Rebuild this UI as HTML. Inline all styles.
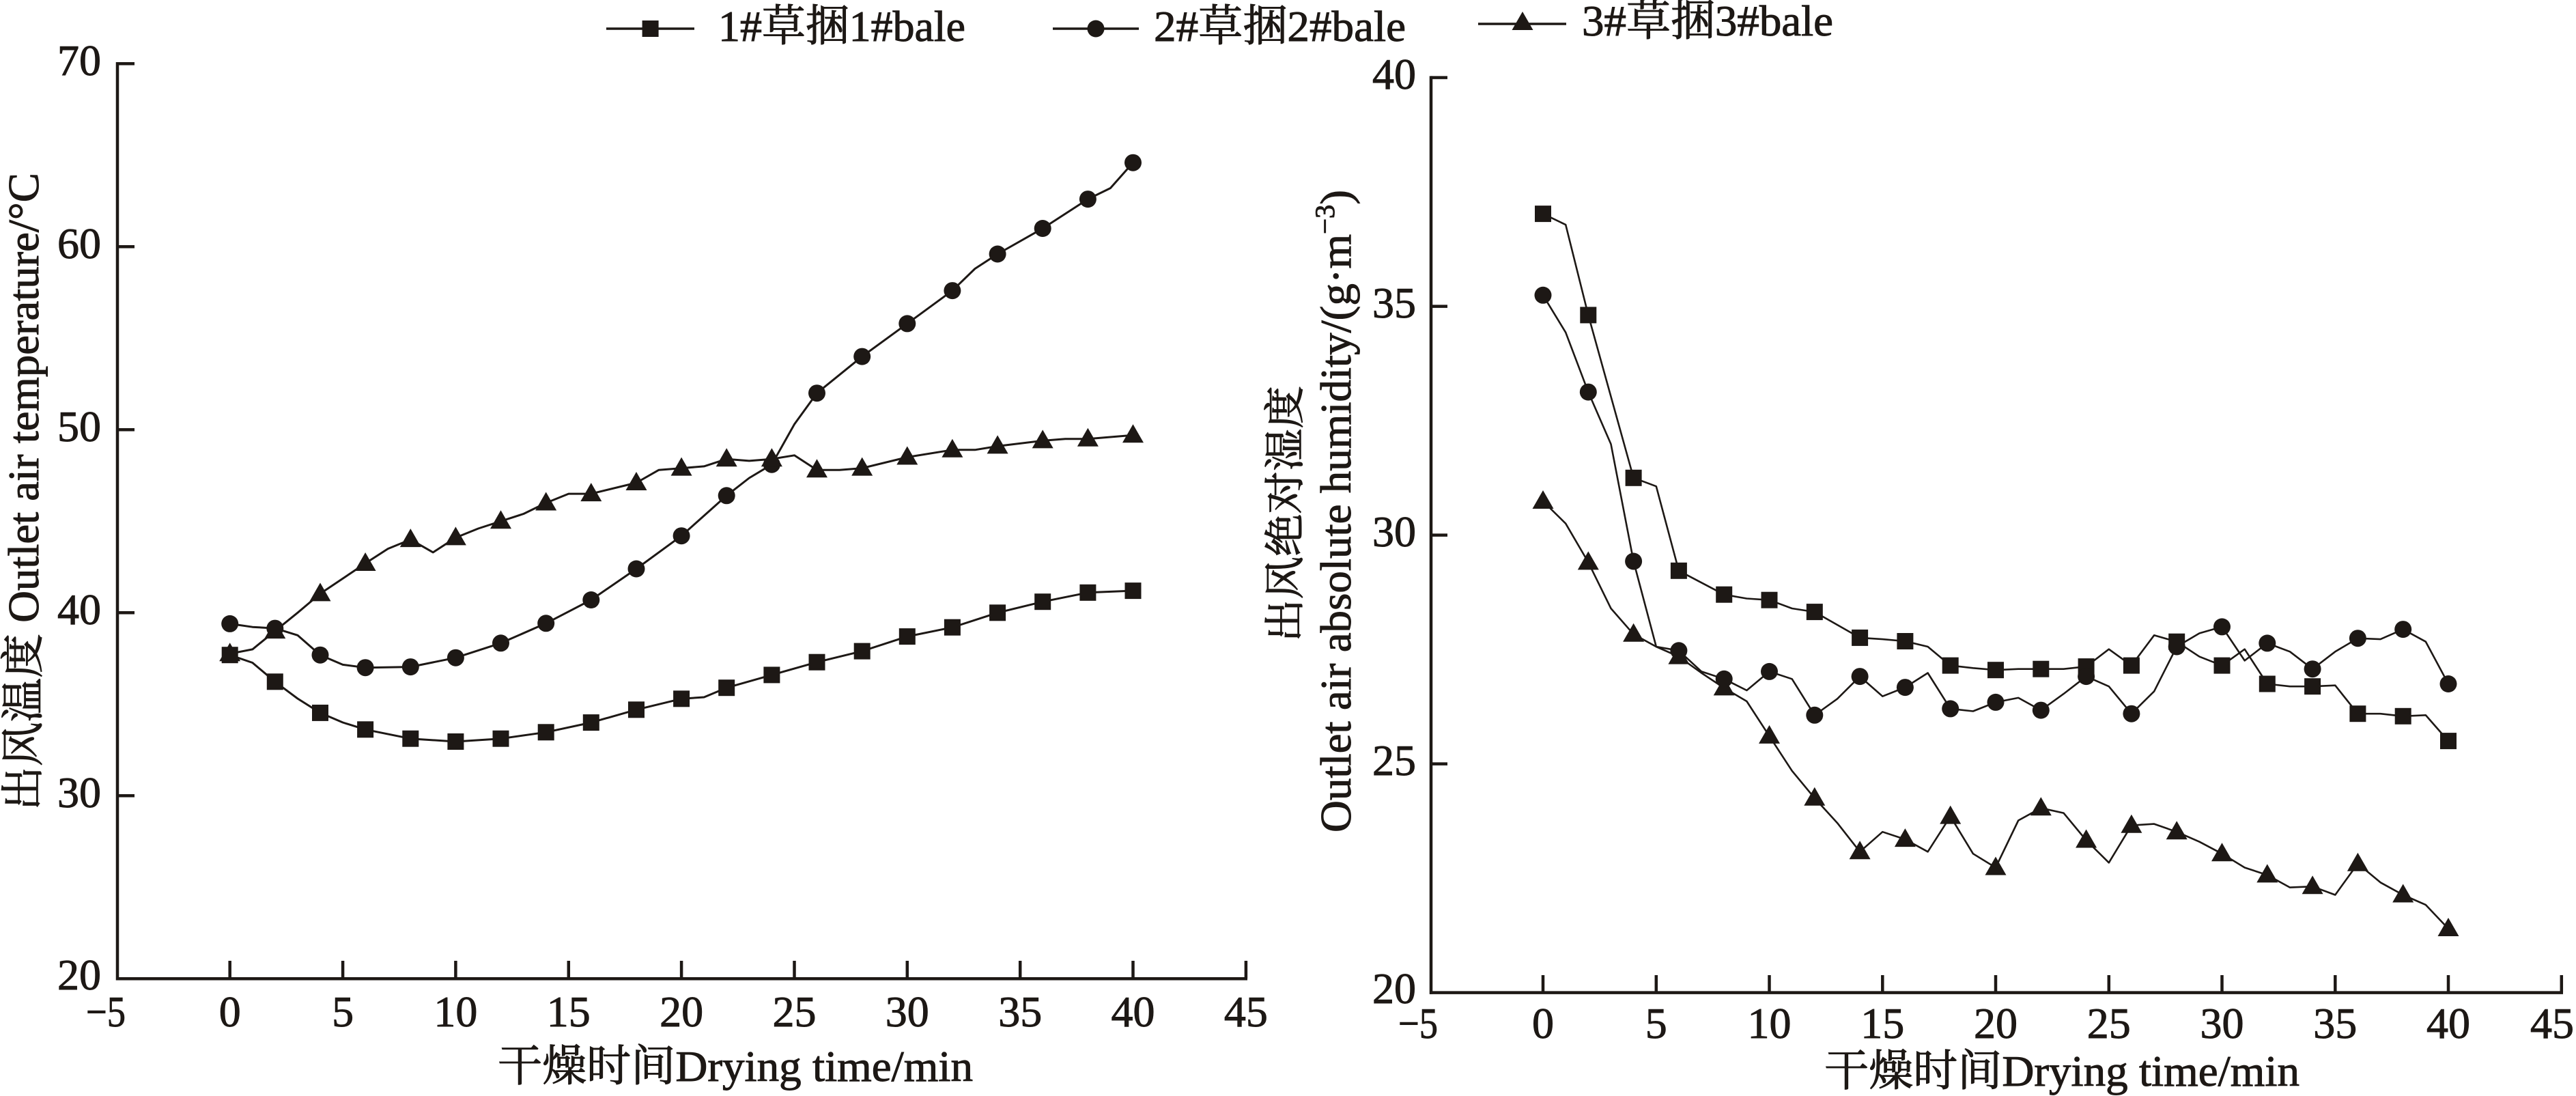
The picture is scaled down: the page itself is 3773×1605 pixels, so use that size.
<!DOCTYPE html>
<html>
<head>
<meta charset="utf-8">
<style>
  html, body { margin: 0; padding: 0; background: #ffffff; }
  svg { display: block; }
  text { font-family: "Liberation Serif", "Noto Serif CJK SC", serif; fill: #1d1815; stroke: #1d1815; stroke-width: 1; }
</style>
</head>
<body>
<svg width="3773" height="1605" viewBox="0 0 3773 1605" xmlns="http://www.w3.org/2000/svg">
<defs>
  <rect id="sq" x="-12" y="-12" width="24" height="24" fill="#1d1815"/>
  <circle id="ci" r="12.5" fill="#1d1815"/>
  <polygon id="tr" points="0,-16 -15.5,11 15.5,11" fill="#1d1815"/>
</defs>
<rect width="3773" height="1605" fill="#fff"/>

<!-- ===== Legend ===== -->
<g stroke="#1d1815" stroke-width="3.5">
  <line x1="888" y1="42" x2="1017" y2="42"/>
  <line x1="1542" y1="42" x2="1668" y2="42"/>
  <line x1="2165" y1="35" x2="2294" y2="35"/>
</g>
<use href="#sq" x="952.6" y="42"/>
<use href="#ci" x="1605" y="42"/>
<use href="#tr" x="2230" y="33"/>
<text x="1052" y="60" font-size="64" textLength="362" lengthAdjust="spacingAndGlyphs">1#草捆1#bale</text>
<text x="1690" y="60" font-size="64" textLength="369" lengthAdjust="spacingAndGlyphs">2#草捆2#bale</text>
<text x="2317" y="52" font-size="64" textLength="368" lengthAdjust="spacingAndGlyphs">3#草捆3#bale</text>

<!-- ===== LEFT CHART ===== -->
<g stroke="#1d1815" stroke-width="4.5" fill="none">
  <line x1="172" y1="91" x2="172" y2="1435.5"/>
  <line x1="170" y1="1433.3" x2="1827" y2="1433.3"/>
  <line x1="172" y1="93.3" x2="197" y2="93.3"/>
  <line x1="172" y1="361.3" x2="197" y2="361.3"/>
  <line x1="172" y1="629.3" x2="197" y2="629.3"/>
  <line x1="172" y1="897.3" x2="197" y2="897.3"/>
  <line x1="172" y1="1165.3" x2="197" y2="1165.3"/>
  <line x1="336.7" y1="1433" x2="336.7" y2="1407"/>
  <line x1="502.1" y1="1433" x2="502.1" y2="1407"/>
  <line x1="667.4" y1="1433" x2="667.4" y2="1407"/>
  <line x1="832.8" y1="1433" x2="832.8" y2="1407"/>
  <line x1="998.1" y1="1433" x2="998.1" y2="1407"/>
  <line x1="1163.5" y1="1433" x2="1163.5" y2="1407"/>
  <line x1="1328.8" y1="1433" x2="1328.8" y2="1407"/>
  <line x1="1494.2" y1="1433" x2="1494.2" y2="1407"/>
  <line x1="1659.5" y1="1433" x2="1659.5" y2="1407"/>
  <line x1="1824.9" y1="1433" x2="1824.9" y2="1407"/>
</g>
<g font-size="64" text-anchor="end">
  <text x="148" y="110">70</text>
  <text x="148" y="378">60</text>
  <text x="148" y="646">50</text>
  <text x="148" y="914">40</text>
  <text x="148" y="1182">30</text>
  <text x="148" y="1449">20</text>
</g>
<g font-size="64" text-anchor="middle">
  <text x="155" y="1503" textLength="58" lengthAdjust="spacingAndGlyphs">−5</text>
  <text x="336.7" y="1503">0</text>
  <text x="502.1" y="1503">5</text>
  <text x="667.4" y="1503">10</text>
  <text x="832.8" y="1503">15</text>
  <text x="998.1" y="1503">20</text>
  <text x="1163.5" y="1503">25</text>
  <text x="1328.8" y="1503">30</text>
  <text x="1494.2" y="1503">35</text>
  <text x="1659.5" y="1503">40</text>
  <text x="1824.9" y="1503">45</text>
</g>
<text x="1077" y="1583" font-size="64" text-anchor="middle" textLength="696" lengthAdjust="spacingAndGlyphs">干燥时间Drying time/min</text>
<text transform="translate(56,720) rotate(-90)" font-size="64" text-anchor="middle" textLength="934" lengthAdjust="spacingAndGlyphs">出风温度 Outlet air temperature/°C</text>

<g stroke="#1d1815" stroke-width="3" fill="none" stroke-linejoin="round">
  <polyline points="336.7,959.2 369.8,970.5 402.8,998.3 435.9,1023 469.0,1043.9 502.1,1058 535.1,1068.3 601.3,1081.7 667.4,1086.0 733.5,1081.7 799.7,1072.3 865.8,1058.1 932.0,1039.3 998.1,1023.3 1031.2,1021 1064.2,1007.2 1130.4,988.4 1196.5,969.7 1262.7,953.6 1328.8,932.1 1394.9,918.7 1461.1,897.3 1527.2,881.2 1593.4,867.8 1659.5,865.1"/>
  <polyline points="336.7,913.4 369.8,918.2 402.8,920.1 435.9,930.3 469.0,959.2 502.1,973.4 535.1,977.7 601.3,976.6 667.4,963.2 733.5,941.8 799.7,912.8 865.8,878.5 932.0,833.0 998.1,784.7 1064.2,725.8 1097.3,700 1130.4,680.2 1163.5,621.3 1196.5,575.7 1262.7,522.1 1328.8,473.9 1394.9,425.6 1428.0,393.5 1461.1,372.0 1527.2,334.5 1593.4,291.6 1626.4,275.5 1659.5,238.2"/>
  <polyline points="336.7,957.3 369.8,950.9 402.8,924.1 435.9,897.3 469.0,869.4 535.1,825.0 568.2,803.6 601.3,790.1 634.3,808.9 667.4,787.4 700.5,774.0 733.5,763.3 766.6,752.6 799.7,736.5 832.8,723.1 865.8,723.1 932.0,707.0 965.0,688.2 998.1,685.6 1031.2,682.9 1064.2,672.2 1097.3,674.9 1130.4,672.2 1163.5,666.8 1196.5,688.2 1229.6,688.2 1262.7,685.6 1328.8,669.5 1394.9,658.8 1428.0,658.8 1461.1,653.4 1527.2,645.4 1560.3,642.7 1593.4,642.7 1659.5,637.3"/>
</g>
<use href="#sq" x="336.7" y="959.2"/><use href="#sq" x="402.8" y="998.3"/><use href="#sq" x="469.0" y="1043.9"/><use href="#sq" x="535.1" y="1068.3"/><use href="#sq" x="601.3" y="1081.7"/><use href="#sq" x="667.4" y="1086.0"/><use href="#sq" x="733.5" y="1081.7"/><use href="#sq" x="799.7" y="1072.3"/><use href="#sq" x="865.8" y="1058.1"/><use href="#sq" x="932.0" y="1039.3"/><use href="#sq" x="998.1" y="1023.3"/><use href="#sq" x="1064.2" y="1007.2"/><use href="#sq" x="1130.4" y="988.4"/><use href="#sq" x="1196.5" y="969.7"/><use href="#sq" x="1262.7" y="953.6"/><use href="#sq" x="1328.8" y="932.1"/><use href="#sq" x="1394.9" y="918.7"/><use href="#sq" x="1461.1" y="897.3"/><use href="#sq" x="1527.2" y="881.2"/><use href="#sq" x="1593.4" y="867.8"/><use href="#sq" x="1659.5" y="865.1"/>
<use href="#ci" x="336.7" y="913.4"/><use href="#ci" x="402.8" y="920.1"/><use href="#ci" x="469.0" y="959.2"/><use href="#ci" x="535.1" y="977.7"/><use href="#ci" x="601.3" y="976.6"/><use href="#ci" x="667.4" y="963.2"/><use href="#ci" x="733.5" y="941.8"/><use href="#ci" x="799.7" y="912.8"/><use href="#ci" x="865.8" y="878.5"/><use href="#ci" x="932.0" y="833.0"/><use href="#ci" x="998.1" y="784.7"/><use href="#ci" x="1064.2" y="725.8"/><use href="#ci" x="1130.4" y="680.2"/><use href="#ci" x="1196.5" y="575.7"/><use href="#ci" x="1262.7" y="522.1"/><use href="#ci" x="1328.8" y="473.9"/><use href="#ci" x="1394.9" y="425.6"/><use href="#ci" x="1461.1" y="372.0"/><use href="#ci" x="1527.2" y="334.5"/><use href="#ci" x="1593.4" y="291.6"/><use href="#ci" x="1659.5" y="238.2"/>
<use href="#tr" x="336.7" y="957.3"/><use href="#tr" x="402.8" y="924.1"/><use href="#tr" x="469.0" y="869.4"/><use href="#tr" x="535.1" y="825.0"/><use href="#tr" x="601.3" y="790.1"/><use href="#tr" x="667.4" y="787.4"/><use href="#tr" x="733.5" y="763.3"/><use href="#tr" x="799.7" y="736.5"/><use href="#tr" x="865.8" y="723.1"/><use href="#tr" x="932.0" y="707.0"/><use href="#tr" x="998.1" y="685.6"/><use href="#tr" x="1064.2" y="672.2"/><use href="#tr" x="1130.4" y="672.2"/><use href="#tr" x="1196.5" y="688.2"/><use href="#tr" x="1262.7" y="685.6"/><use href="#tr" x="1328.8" y="669.5"/><use href="#tr" x="1394.9" y="658.8"/><use href="#tr" x="1461.1" y="653.4"/><use href="#tr" x="1527.2" y="645.4"/><use href="#tr" x="1593.4" y="642.7"/><use href="#tr" x="1659.5" y="637.3"/>

<!-- ===== RIGHT CHART ===== -->
<g stroke="#1d1815" stroke-width="4.5" fill="none">
  <line x1="2096" y1="111.4" x2="2096" y2="1455.8"/>
  <line x1="2094" y1="1453.6" x2="3754" y2="1453.6"/>
  <line x1="2096" y1="113.6" x2="2120" y2="113.6"/>
  <line x1="2096" y1="448.6" x2="2120" y2="448.6"/>
  <line x1="2096" y1="783.6" x2="2120" y2="783.6"/>
  <line x1="2096" y1="1118.6" x2="2120" y2="1118.6"/>
  <line x1="2260.0" y1="1453" x2="2260.0" y2="1428"/>
  <line x1="2425.8" y1="1453" x2="2425.8" y2="1428"/>
  <line x1="2591.5" y1="1453" x2="2591.5" y2="1428"/>
  <line x1="2757.3" y1="1453" x2="2757.3" y2="1428"/>
  <line x1="2923.0" y1="1453" x2="2923.0" y2="1428"/>
  <line x1="3088.8" y1="1453" x2="3088.8" y2="1428"/>
  <line x1="3254.5" y1="1453" x2="3254.5" y2="1428"/>
  <line x1="3420.3" y1="1453" x2="3420.3" y2="1428"/>
  <line x1="3586.0" y1="1453" x2="3586.0" y2="1428"/>
  <line x1="3751.8" y1="1453" x2="3751.8" y2="1428"/>
</g>
<g font-size="64" text-anchor="end">
  <text x="2074" y="130">40</text>
  <text x="2074" y="465">35</text>
  <text x="2074" y="800">30</text>
  <text x="2074" y="1135">25</text>
  <text x="2074" y="1469">20</text>
</g>
<g font-size="64" text-anchor="middle">
  <text x="2077" y="1520" textLength="58" lengthAdjust="spacingAndGlyphs">−5</text>
  <text x="2260.0" y="1520">0</text>
  <text x="2425.8" y="1520">5</text>
  <text x="2591.5" y="1520">10</text>
  <text x="2757.3" y="1520">15</text>
  <text x="2923.0" y="1520">20</text>
  <text x="3088.8" y="1520">25</text>
  <text x="3254.5" y="1520">30</text>
  <text x="3420.3" y="1520">35</text>
  <text x="3586.0" y="1520">40</text>
  <text x="3738" y="1520">45</text>
</g>
<text x="3020" y="1590" font-size="64" text-anchor="middle" textLength="696" lengthAdjust="spacingAndGlyphs">干燥时间Drying time/min</text>
<text transform="translate(1903,752.5) rotate(-90)" font-size="60" text-anchor="middle" textLength="375" lengthAdjust="spacingAndGlyphs">出风绝对湿度</text>
<text transform="translate(1978,748.5) rotate(-90)" font-size="64" text-anchor="middle" textLength="941" lengthAdjust="spacingAndGlyphs">Outlet air absolute humidity/(g·m<tspan font-size="40" dy="-24">−3</tspan><tspan dy="24">)</tspan></text>

<g stroke="#1d1815" stroke-width="2.6" fill="none" stroke-linejoin="round">
  <polyline points="2260.0,313.1 2293.2,329.1 2326.3,461.4 2392.6,699.8 2425.8,712.2 2458.9,835.8 2525.2,870.7 2558.4,876.5 2591.5,878.7 2624.7,891.0 2657.8,896.1 2724.1,933.9 2757.3,936.1 2790.4,939.0 2823.6,947.0 2856.7,974.6 2889.9,978.3 2923.0,981.2 2956.2,979.7 2989.3,979.7 3022.5,979.7 3055.6,976.1 3088.8,950.7 3121.9,974.6 3155.1,930.3 3188.2,939.7 3221.4,961.6 3254.5,974.6 3287.7,950.7 3320.8,1001.5 3354.0,1005.2 3387.1,1005.2 3420.3,1003.7 3453.4,1045.2 3486.6,1045.2 3519.7,1048.8 3552.9,1047.3 3586.0,1085.1"/>
  <polyline points="2260.0,432.3 2293.2,486.8 2326.3,574.1 2359.5,650.4 2392.6,822.0 2425.8,947.0 2458.9,952.8 2492.1,983.4 2525.2,994.3 2558.4,1011.0 2591.5,983.4 2624.7,994.3 2657.8,1047.3 2691.0,1023.4 2724.1,990.6 2757.3,1019.7 2790.4,1006.6 2823.6,985.5 2856.7,1037.9 2889.9,1041.5 2923.0,1028.4 2956.2,1021.9 2989.3,1040.1 3022.5,1016.1 3055.6,990.6 3088.8,1005.2 3121.9,1045.2 3155.1,1012.4 3188.2,947.0 3221.4,927.4 3254.5,917.9 3287.7,967.4 3320.8,941.9 3354.0,954.3 3387.1,979.7 3420.3,954.3 3453.4,934.7 3486.6,936.1 3519.7,921.6 3552.9,939.7 3586.0,1001.5"/>
  <polyline points="2260.0,734.0 2293.2,766.7 2326.3,823.4 2359.5,891.0 2392.6,928.8 2425.8,947.0 2458.9,961.6 2492.1,985.5 2525.2,1007.4 2558.4,1027.0 2591.5,1077.9 2624.7,1128.8 2657.8,1168.8 2691.0,1205.1 2724.1,1247.3 2757.3,1218.2 2790.4,1229.1 2823.6,1247.3 2856.7,1195.6 2889.9,1250.2 2923.0,1270.5 2956.2,1201.5 2989.3,1183.3 3022.5,1190.6 3055.6,1230.5 3088.8,1263.3 3121.9,1208.7 3155.1,1206.6 3188.2,1218.2 3221.4,1232.7 3254.5,1250.2 3287.7,1270.5 3320.8,1281.4 3354.0,1299.6 3387.1,1298.2 3420.3,1310.5 3453.4,1264.7 3486.6,1292.3 3519.7,1310.5 3552.9,1325.1 3586.0,1360.0"/>
</g>
<use href="#sq" x="2260.0" y="313.1"/><use href="#sq" x="2326.3" y="461.4"/><use href="#sq" x="2392.6" y="699.8"/><use href="#sq" x="2458.9" y="835.8"/><use href="#sq" x="2525.2" y="870.7"/><use href="#sq" x="2591.5" y="878.7"/><use href="#sq" x="2657.8" y="896.1"/><use href="#sq" x="2724.1" y="933.9"/><use href="#sq" x="2790.4" y="939.0"/><use href="#sq" x="2856.7" y="974.6"/><use href="#sq" x="2923.0" y="981.2"/><use href="#sq" x="2989.3" y="979.7"/><use href="#sq" x="3055.6" y="976.1"/><use href="#sq" x="3121.9" y="974.6"/><use href="#sq" x="3188.2" y="939.7"/><use href="#sq" x="3254.5" y="974.6"/><use href="#sq" x="3320.8" y="1001.5"/><use href="#sq" x="3387.1" y="1005.2"/><use href="#sq" x="3453.4" y="1045.2"/><use href="#sq" x="3519.7" y="1048.8"/><use href="#sq" x="3586.0" y="1085.1"/>
<use href="#ci" x="2260.0" y="432.3"/><use href="#ci" x="2326.3" y="574.1"/><use href="#ci" x="2392.6" y="822.0"/><use href="#ci" x="2458.9" y="952.8"/><use href="#ci" x="2525.2" y="994.3"/><use href="#ci" x="2591.5" y="983.4"/><use href="#ci" x="2657.8" y="1047.3"/><use href="#ci" x="2724.1" y="990.6"/><use href="#ci" x="2790.4" y="1006.6"/><use href="#ci" x="2856.7" y="1037.9"/><use href="#ci" x="2923.0" y="1028.4"/><use href="#ci" x="2989.3" y="1040.1"/><use href="#ci" x="3055.6" y="990.6"/><use href="#ci" x="3121.9" y="1045.2"/><use href="#ci" x="3188.2" y="947.0"/><use href="#ci" x="3254.5" y="917.9"/><use href="#ci" x="3320.8" y="941.9"/><use href="#ci" x="3387.1" y="979.7"/><use href="#ci" x="3453.4" y="934.7"/><use href="#ci" x="3519.7" y="921.6"/><use href="#ci" x="3586.0" y="1001.5"/>
<use href="#tr" x="2260.0" y="734.0"/><use href="#tr" x="2326.3" y="823.4"/><use href="#tr" x="2392.6" y="928.8"/><use href="#tr" x="2458.9" y="961.6"/><use href="#tr" x="2525.2" y="1007.4"/><use href="#tr" x="2591.5" y="1077.9"/><use href="#tr" x="2657.8" y="1168.8"/><use href="#tr" x="2724.1" y="1247.3"/><use href="#tr" x="2790.4" y="1229.1"/><use href="#tr" x="2856.7" y="1195.6"/><use href="#tr" x="2923.0" y="1270.5"/><use href="#tr" x="2989.3" y="1183.3"/><use href="#tr" x="3055.6" y="1230.5"/><use href="#tr" x="3121.9" y="1208.7"/><use href="#tr" x="3188.2" y="1218.2"/><use href="#tr" x="3254.5" y="1250.2"/><use href="#tr" x="3320.8" y="1281.4"/><use href="#tr" x="3387.1" y="1298.2"/><use href="#tr" x="3453.4" y="1264.7"/><use href="#tr" x="3519.7" y="1310.5"/><use href="#tr" x="3586.0" y="1360.0"/>
</svg>
</body>
</html>
